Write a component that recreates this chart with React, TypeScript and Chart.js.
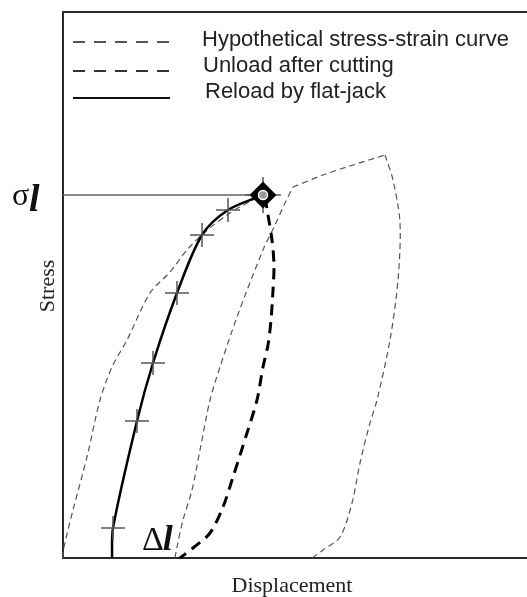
import React, { useEffect, useRef } from "react";
import { Chart, registerables } from "chart.js";

Chart.register(...registerables);

// Axis ranges (arbitrary displacement / stress units)
const X_MAX = 444;
const Y_MAX = 538;

// Hypothetical stress-strain curve: initial loading branch
const hypLoadX = [0, 1, 10, 24, 37, 49, 64, 87, 107, 124, 142, 167, 195];
const hypLoadY = [0, 11, 48, 101, 158, 191, 218, 265, 286, 308, 326, 345, 361];
// Hypothetical curve: reloading branch up to the envelope
const hypReloadX = [112, 114, 120, 129, 137, 147, 157, 174, 200, 212, 222, 230];
const hypReloadY = [0, 11, 38, 68, 108, 158, 191, 241, 308, 333, 355, 371];
// Hypothetical curve: envelope up to peak
const hypEnvX = [230, 260, 290, 322];
const hypEnvY = [371, 383, 393, 403];
// Hypothetical curve: post-peak / unloading branch
const hypDownX = [322, 330, 337, 335, 327, 314, 307, 297, 289, 277, 260, 249];
const hypDownY = [403, 378, 335, 278, 218, 158, 135, 95, 55, 21, 8, 0];

// Unload after cutting
const unloadX = [202, 205, 209, 211, 210, 208, 205, 200, 194, 184, 170, 160, 147, 130, 117];
const unloadY = [361, 343, 318, 293, 268, 238, 213, 191, 158, 125, 81, 51, 25, 10, 0];

// Reload by flat-jack
const reloadX = [49, 50, 74, 90, 114, 139, 165, 200];
const reloadY = [0, 30, 137, 195, 265, 323, 348, 363];
const reloadMarkerSize = [0, 12, 12, 12, 12, 12, 12, 18];

// In-situ stress level and its point
const SIGMA = 363;
const sigmaPointX = [200];
const sigmaLineX = [0, 190];
const deltaLabelX = 79;

const legendLabels = [
  "Hypothetical stress-strain curve",
  "Unload after cutting",
  "Reload by flat-jack",
];
const axisLabelX = "Displacement";
const axisLabelY = "Stress";

const pts = (xs: number[], ys: number[]) => xs.map((x, i) => ({ x, y: ys[i] }));

const decor = {
  id: "decor",
  beforeDatasetsDraw(chart: any) {
    const { ctx, chartArea: a, scales, width } = chart;
    const xs = scales.x;
    const ys = scales.y;
    ctx.save();
    // frame (open on the right)
    const frameTop = 12;
    ctx.strokeStyle = "#2a2a2a";
    ctx.lineWidth = 2;
    ctx.beginPath();
    ctx.moveTo(a.left, a.bottom + 1);
    ctx.lineTo(a.left, frameTop);
    ctx.lineTo(width, frameTop);
    ctx.moveTo(a.left - 1, a.bottom);
    ctx.lineTo(width, a.bottom);
    ctx.stroke();

    // legend
    const rows = [
      { y: 42, tb: 46, dash: [12, 9], color: "#555", w: 2 },
      { y: 71, tb: 72, dash: [12, 9], color: "#333", w: 2 },
      { y: 98, tb: 98, dash: [], color: "#111", w: 2 },
    ];
    const tx = [202, 203, 205];
    ctx.font = "22px 'Liberation Sans', Arial, sans-serif";
    ctx.textBaseline = "alphabetic";
    ctx.textAlign = "left";
    rows.forEach((r, i) => {
      ctx.setLineDash(r.dash);
      ctx.strokeStyle = r.color;
      ctx.lineWidth = r.w;
      ctx.beginPath();
      ctx.moveTo(73, r.y);
      ctx.lineTo(170, r.y);
      ctx.stroke();
      ctx.fillStyle = "#222";
      ctx.fillText(legendLabels[i], tx[i], r.tb);
    });
    ctx.setLineDash([]);

    // sigma label
    const sy = ys.getPixelForValue(SIGMA);
    ctx.fillStyle = "#111";
    ctx.font = "32px 'Liberation Serif', 'Times New Roman', serif";
    ctx.fillText("σ", 12, sy + 10);
    ctx.font = "italic bold 38px 'Liberation Serif', 'Times New Roman', serif";
    ctx.fillText("l", 29, sy + 16);

    // delta l label
    const dx = xs.getPixelForValue(deltaLabelX);
    const dy = ys.getPixelForValue(0) - 8;
    ctx.font = "34px 'Liberation Serif', 'Times New Roman', serif";
    ctx.fillText("Δ", dx, dy);
    const dw = ctx.measureText("Δ").width;
    ctx.font = "italic bold 36px 'Liberation Serif', 'Times New Roman', serif";
    ctx.fillText("l", dx + dw - 1, dy);

    // axis titles
    ctx.fillStyle = "#222";
    ctx.font = "22px 'Liberation Serif', 'Times New Roman', serif";
    ctx.textAlign = "center";
    ctx.fillText(axisLabelX, 292, 592);
    ctx.save();
    ctx.translate(54, 286);
    ctx.rotate(-Math.PI / 2);
    ctx.fillText(axisLabelY, 0, 0);
    ctx.restore();

    ctx.restore();
  },
};

export default function App() {
  const ref = useRef<HTMLCanvasElement | null>(null);
  useEffect(() => {
    if (!ref.current) return;
    const thin = {
      showLine: true,
      borderColor: "#555",
      borderWidth: 1.2,
      borderDash: [6, 4],
      pointRadius: 0,
      tension: 0.3,
      order: 10,
    };
    const chart = new Chart(ref.current, {
      type: "scatter",
      data: {
        datasets: [
          { ...thin, data: pts(hypLoadX, hypLoadY) },
          { ...thin, data: pts(hypReloadX, hypReloadY) },
          { ...thin, data: pts(hypEnvX, hypEnvY) },
          { ...thin, data: pts(hypDownX, hypDownY) },
          {
            showLine: true,
            data: pts(sigmaLineX, [SIGMA, SIGMA]),
            borderColor: "#666",
            borderWidth: 1.5,
            pointRadius: 0,
            order: 9,
          },
          {
            showLine: true,
            data: pts(unloadX, unloadY),
            borderColor: "#000",
            borderWidth: 3,
            borderDash: [11, 7],
            pointRadius: 0,
            tension: 0.3,
            order: 8,
          },
          {
            showLine: true,
            data: pts(reloadX, reloadY),
            borderColor: "#000",
            borderWidth: 2.5,
            tension: 0.3,
            pointStyle: "cross",
            pointRadius: reloadMarkerSize,
            pointBorderColor: "#555",
            pointBorderWidth: 1.5,
            order: 7,
          },
          {
            data: pts(sigmaPointX, [SIGMA]),
            pointStyle: "rectRot",
            pointRadius: 12,
            pointBackgroundColor: "#000",
            pointBorderColor: "#000",
            pointBorderWidth: 2,
            order: 4,
          },
          {
            data: pts(sigmaPointX, [SIGMA]),
            pointStyle: "circle",
            pointRadius: 4.5,
            pointBackgroundColor: "#999",
            pointBorderColor: "#fff",
            pointBorderWidth: 1.5,
            order: 3,
          },
        ],
      },
      options: {
        animation: false,
        responsive: false,
        devicePixelRatio: 1,
        layout: { padding: { left: 63, right: 20, top: 20, bottom: 39 } },
        scales: {
          x: { type: "linear", min: 0, max: X_MAX, display: false },
          y: { type: "linear", min: 0, max: Y_MAX, display: false },
        },
        plugins: {
          legend: { display: false },
          tooltip: { enabled: false },
        },
        elements: { line: { fill: false } },
        clip: false,
      } as any,
      plugins: [decor],
    });
    return () => chart.destroy();
  }, []);
  return (
    <div style={{ position: "fixed", left: 0, top: 0, width: 527, height: 597, background: "#fff" }}>
      <canvas ref={ref} width={527} height={597} style={{ width: 527, height: 597 }} />
    </div>
  );
}
